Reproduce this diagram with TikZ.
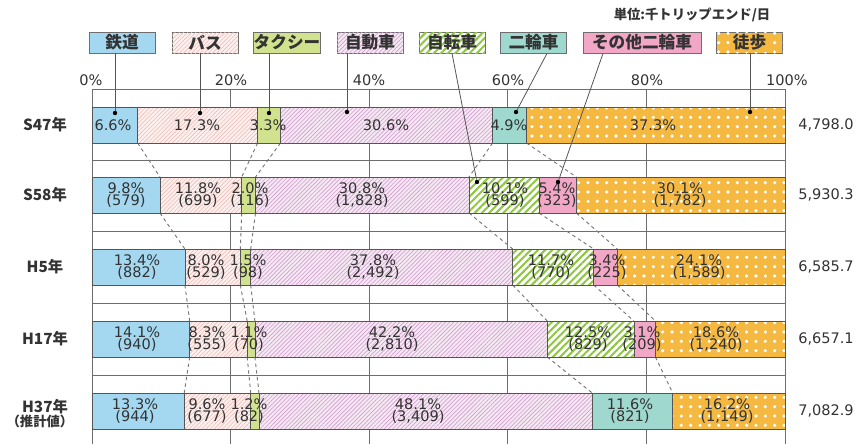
\documentclass[tikz,border=0pt]{standalone}
\usepackage{fontspec}
\setmainfont{DejaVu Sans}
\newfontfamily\jp{Noto Sans CJK JP}
\usetikzlibrary{patterns.meta,calc}
\definecolor{cRail}{HTML}{A3D8F0}
\definecolor{cBusBg}{HTML}{FDF1EF}
\definecolor{cBusLn}{HTML}{EDBDB8}
\definecolor{cTaxi}{HTML}{D0E28E}
\definecolor{cCarBg}{HTML}{F6E8F4}
\definecolor{cCarLn}{HTML}{CFA2CB}
\definecolor{cBike}{HTML}{8DC63F}
\definecolor{cMoto}{HTML}{9FD8CF}
\definecolor{cOther}{HTML}{F3A7C7}
\definecolor{cWalk}{HTML}{F5B840}
\definecolor{cLine}{HTML}{555555}
\definecolor{cGrid}{HTML}{6E6E6E}
\definecolor{cText}{HTML}{333333}
\definecolor{cDash}{HTML}{777777}
\tikzset{
  rail/.style={fill=cRail},
  bus/.style={fill=cBusBg,postaction={pattern={Lines[angle=45,distance=2.2pt,line width=0.45pt]},pattern color=cBusLn}},
  taxi/.style={fill=cTaxi},
  car/.style={fill=cCarBg,postaction={pattern={Lines[angle=45,distance=2.2pt,line width=0.5pt]},pattern color=cCarLn}},
  bike/.style={fill=white,postaction={pattern={Lines[angle=45,distance=3.8pt,line width=1.5pt]},pattern color=cBike}},
  moto/.style={fill=cMoto},
  other/.style={fill=cOther},
  walk/.style={fill=cWalk,postaction={pattern={Dots[distance=7pt,radius=1.35pt]},pattern color=white}},
  barline/.style={draw=cLine,line width=0.6pt},
  gridln/.style={draw=cGrid,line width=0.6pt},
  conn/.style={draw=cDash,line width=0.7pt,dash pattern=on 2.6pt off 2.4pt},
  leader/.style={draw=cLine,line width=0.6pt},
  dot/.style={circle,fill=black,inner sep=0pt,minimum size=3.3pt},
  lgbox/.style={draw=cGrid,line width=0.6pt,minimum width=49.5pt,minimum height=15.75pt,inner sep=0pt,font=\jp\bfseries\fontsize{12.5}{13}\selectfont,text=cText},
  val/.style={align=center,inner sep=0pt,text=cText,font=\fontsize{10.9}{9.4}\selectfont},
  tot/.style={inner sep=0pt,text=cText,font=\fontsize{10.9}{12}\selectfont},
  yr/.style={inner sep=0pt,text=cText,font=\jp\bfseries\fontsize{11.5}{12}\selectfont},
  axl/.style={inner sep=0pt,text=cText,font=\fontsize{10.9}{12}\selectfont},
}
\newcommand\segm[4]{\path[#1] (#2,#4) rectangle (#3,#4+36);\draw[barline] (#2,#4) rectangle (#3,#4+36);}
\begin{document}
\begin{tikzpicture}[x=0.75pt,y=-0.75pt]
\useasboundingbox (0,0) rectangle (863,444);
% grid
\draw[gridln] (92,89) -- (785,89);
\foreach \gx in {92,230.6,369.2,507.8,646.4,785} {\draw[gridln] (\gx,89) -- (\gx,444);}
\foreach \gy in {160,231.5,303,375} {\draw[gridln] (92,\gy) -- (785,\gy);}
% axis labels
\node[axl] (a0) at (91,80) {0\%};
\node[axl] (a20) at (231,80) {20\%};
\node[axl] (a40) at (369,80) {40\%};
\node[axl] (a60) at (508,80) {60\%};
\node[axl] (a80) at (647,80) {80\%};
\node[axl] (a100) at (787,80) {100\%};
% unit
\node[inner sep=0pt,text=cText,font=\jp\bfseries\fontsize{10}{12}\selectfont] (unit) at (692,15) {単位:千トリップエンド/日};
% legend
\node[lgbox,rail] (lgRail) at (122,42.5) {鉄道};
\node[lgbox,bus] (lgBus) at (205,42.5) {バス};
\node[lgbox,taxi] (lgTaxi) at (287,42.5) {タクシー};
\node[lgbox,car] (lgCar) at (370,42.5) {自動車};
\node[lgbox,bike] (lgBike) at (452,42.5) {自転車};
\node[lgbox,moto] (lgMoto) at (533.5,42.5) {二輪車};
\node[lgbox,other,minimum width=88.5pt] (lgOther) at (642,42.5) {その他二輪車};
\node[lgbox,walk] (lgWalk) at (749.5,42.5) {{\fboxsep=0.8pt\colorbox{cWalk}{徒歩}}};
% dashed connectors
\foreach \xa/\xb in {137.7/159.9,257.6/241.7,280.5/255.5,492.6/469.0,526.5/576.4} {\draw[conn] (\xa,143) -- (\xb,177);}
\foreach \xa/\xb in {159.9/184.9,241.7/240.3,255.5/250.7,469.0/512.7,539.0/593.7,576.4/617.3} {\draw[conn] (\xa,213) -- (\xb,249);}
\foreach \xa/\xb in {184.9/189.7,240.3/247.2,250.7/254.9,512.7/547.3,593.7/633.9,617.3/655.4} {\draw[conn] (\xa,285) -- (\xb,321);}
\foreach \xa/\xb in {189.7/184.2,247.2/250.7,254.9/259.0,547.3/592.3,655.4/672.7} {\draw[conn] (\xa,357) -- (\xb,393);}
% bars S47
\segm{rail}{92}{137.7}{107}
\segm{bus}{137.7}{257.6}{107}
\segm{taxi}{257.6}{280.5}{107}
\segm{car}{280.5}{492.6}{107}
\segm{moto}{492.6}{526.5}{107}
\segm{walk}{526.5}{785}{107}
% S58
\segm{rail}{92}{159.9}{177}
\segm{bus}{159.9}{241.7}{177}
\segm{taxi}{241.7}{255.5}{177}
\segm{car}{255.5}{469.0}{177}
\segm{bike}{469.0}{539.0}{177}
\segm{other}{539.0}{576.4}{177}
\segm{walk}{576.4}{785}{177}
% H5
\segm{rail}{92}{184.9}{249}
\segm{bus}{184.9}{240.3}{249}
\segm{taxi}{240.3}{250.7}{249}
\segm{car}{250.7}{512.7}{249}
\segm{bike}{512.7}{593.7}{249}
\segm{other}{593.7}{617.3}{249}
\segm{walk}{617.3}{785}{249}
% H17
\segm{rail}{92}{189.7}{321}
\segm{bus}{189.7}{247.2}{321}
\segm{taxi}{247.2}{254.9}{321}
\segm{car}{254.9}{547.3}{321}
\segm{bike}{547.3}{633.9}{321}
\segm{other}{633.9}{655.4}{321}
\segm{walk}{655.4}{785}{321}
% H37
\segm{rail}{92}{184.2}{393}
\segm{bus}{184.2}{250.7}{393}
\segm{taxi}{250.7}{259.0}{393}
\segm{car}{259.0}{592.3}{393}
\segm{moto}{592.3}{672.7}{393}
\segm{walk}{672.7}{785}{393}
% values S47
\node[val] (v11) at (113,125) {6.6\%};
\node[val] (v12) at (197,125) {17.3\%};
\node[val] (v13) at (268,125) {3.3\%};
\node[val] (v14) at (386,125) {30.6\%};
\node[val] (v15) at (509,125) {4.9\%};
\node[val] (v16) at (653,125) {37.3\%};
% S58
\node[val] (v21) at (126,195) {9.8\%\\(579)};
\node[val] (v22) at (198,195) {11.8\%\\(699)};
\node[val] (v23) at (250,195) {2.0\%\\(116)};
\node[val] (v24) at (362,195) {30.8\%\\(1,828)};
\node[val] (v25) at (505,195) {10.1\%\\(599)};
\node[val] (v26) at (557,195) {5.4\%\\(323)};
\node[val] (v27) at (680,195) {30.1\%\\(1,782)};
% H5
\node[val] (v31) at (137,267) {13.4\%\\(882)};
\node[val] (v32) at (206,267) {8.0\%\\(529)};
\node[val] (v33) at (248,267) {1.5\%\\(98)};
\node[val] (v34) at (373,267) {37.8\%\\(2,492)};
\node[val] (v35) at (551,267) {11.7\%\\(770)};
\node[val] (v36) at (607,267) {3.4\%\\(225)};
\node[val] (v37) at (699,267) {24.1\%\\(1,589)};
% H17
\node[val] (v41) at (137,339) {14.1\%\\(940)};
\node[val] (v42) at (207,339) {8.3\%\\(555)};
\node[val] (v43) at (249,339) {1.1\%\\(70)};
\node[val] (v44) at (392,339) {42.2\%\\(2,810)};
\node[val] (v45) at (588,339) {12.5\%\\(829)};
\node[val] (v46) at (642,339) {3.1\%\\(209)};
\node[val] (v47) at (716,339) {18.6\%\\(1,240)};
% H37
\node[val] (v51) at (135,411) {13.3\%\\(944)};
\node[val] (v52) at (207,411) {9.6\%\\(677)};
\node[val] (v53) at (249,411) {1.2\%\\(82)};
\node[val] (v54) at (418,411) {48.1\%\\(3,409)};
\node[val] (v55) at (630,411) {11.6\%\\(821)};
\node[val] (v56) at (727,411) {16.2\%\\(1,149)};
% totals
\node[tot] (t1) at (826,125) {4,798.0};
\node[tot] (t2) at (826,195) {5,930.3};
\node[tot] (t3) at (826,267) {6,585.7};
\node[tot] (t4) at (826,339) {6,657.1};
\node[tot] (t5) at (826,411) {7,082.9};
% years
\node[yr] (y1) at (45,125) {S47年};
\node[yr] (y2) at (45,195) {S58年};
\node[yr] (y3) at (45,267) {H5年};
\node[yr] (y4) at (45,339) {H17年};
\node[yr] (y5) at (45,407) {H37年};
\node[yr,font=\jp\bfseries\fontsize{10}{12}\selectfont] (y5b) at (40,421) {（推計値）};
% leader dots and lines
\node[dot] (d1) at (115,113) {};
\node[dot] (d2) at (200,113) {};
\node[dot] (d3) at (269,113) {};
\node[dot] (d4) at (347,112) {};
\node[dot] (d5) at (477,182) {};
\node[dot] (d6) at (516,112) {};
\node[dot] (d7) at (558,182) {};
\node[dot] (d8) at (750,112) {};
\draw[leader] (lgRail.south -| d1) -- (d1);
\draw[leader] (lgBus.south -| d2) -- (d2);
\draw[leader] (lgTaxi.south -| d3) -- (d3);
\draw[leader] (lgCar.south -| d4) -- (d4);
\draw[leader] (lgBike.south) -- (d5);
\draw[leader] ($(lgMoto.south)+(13.5,0)$) -- (d6);
\draw[leader] ($(lgOther.south)+(-39,0)$) -- (d7);
\draw[leader] (lgWalk.south -| d8) -- (d8);
\end{tikzpicture}
\end{document}
